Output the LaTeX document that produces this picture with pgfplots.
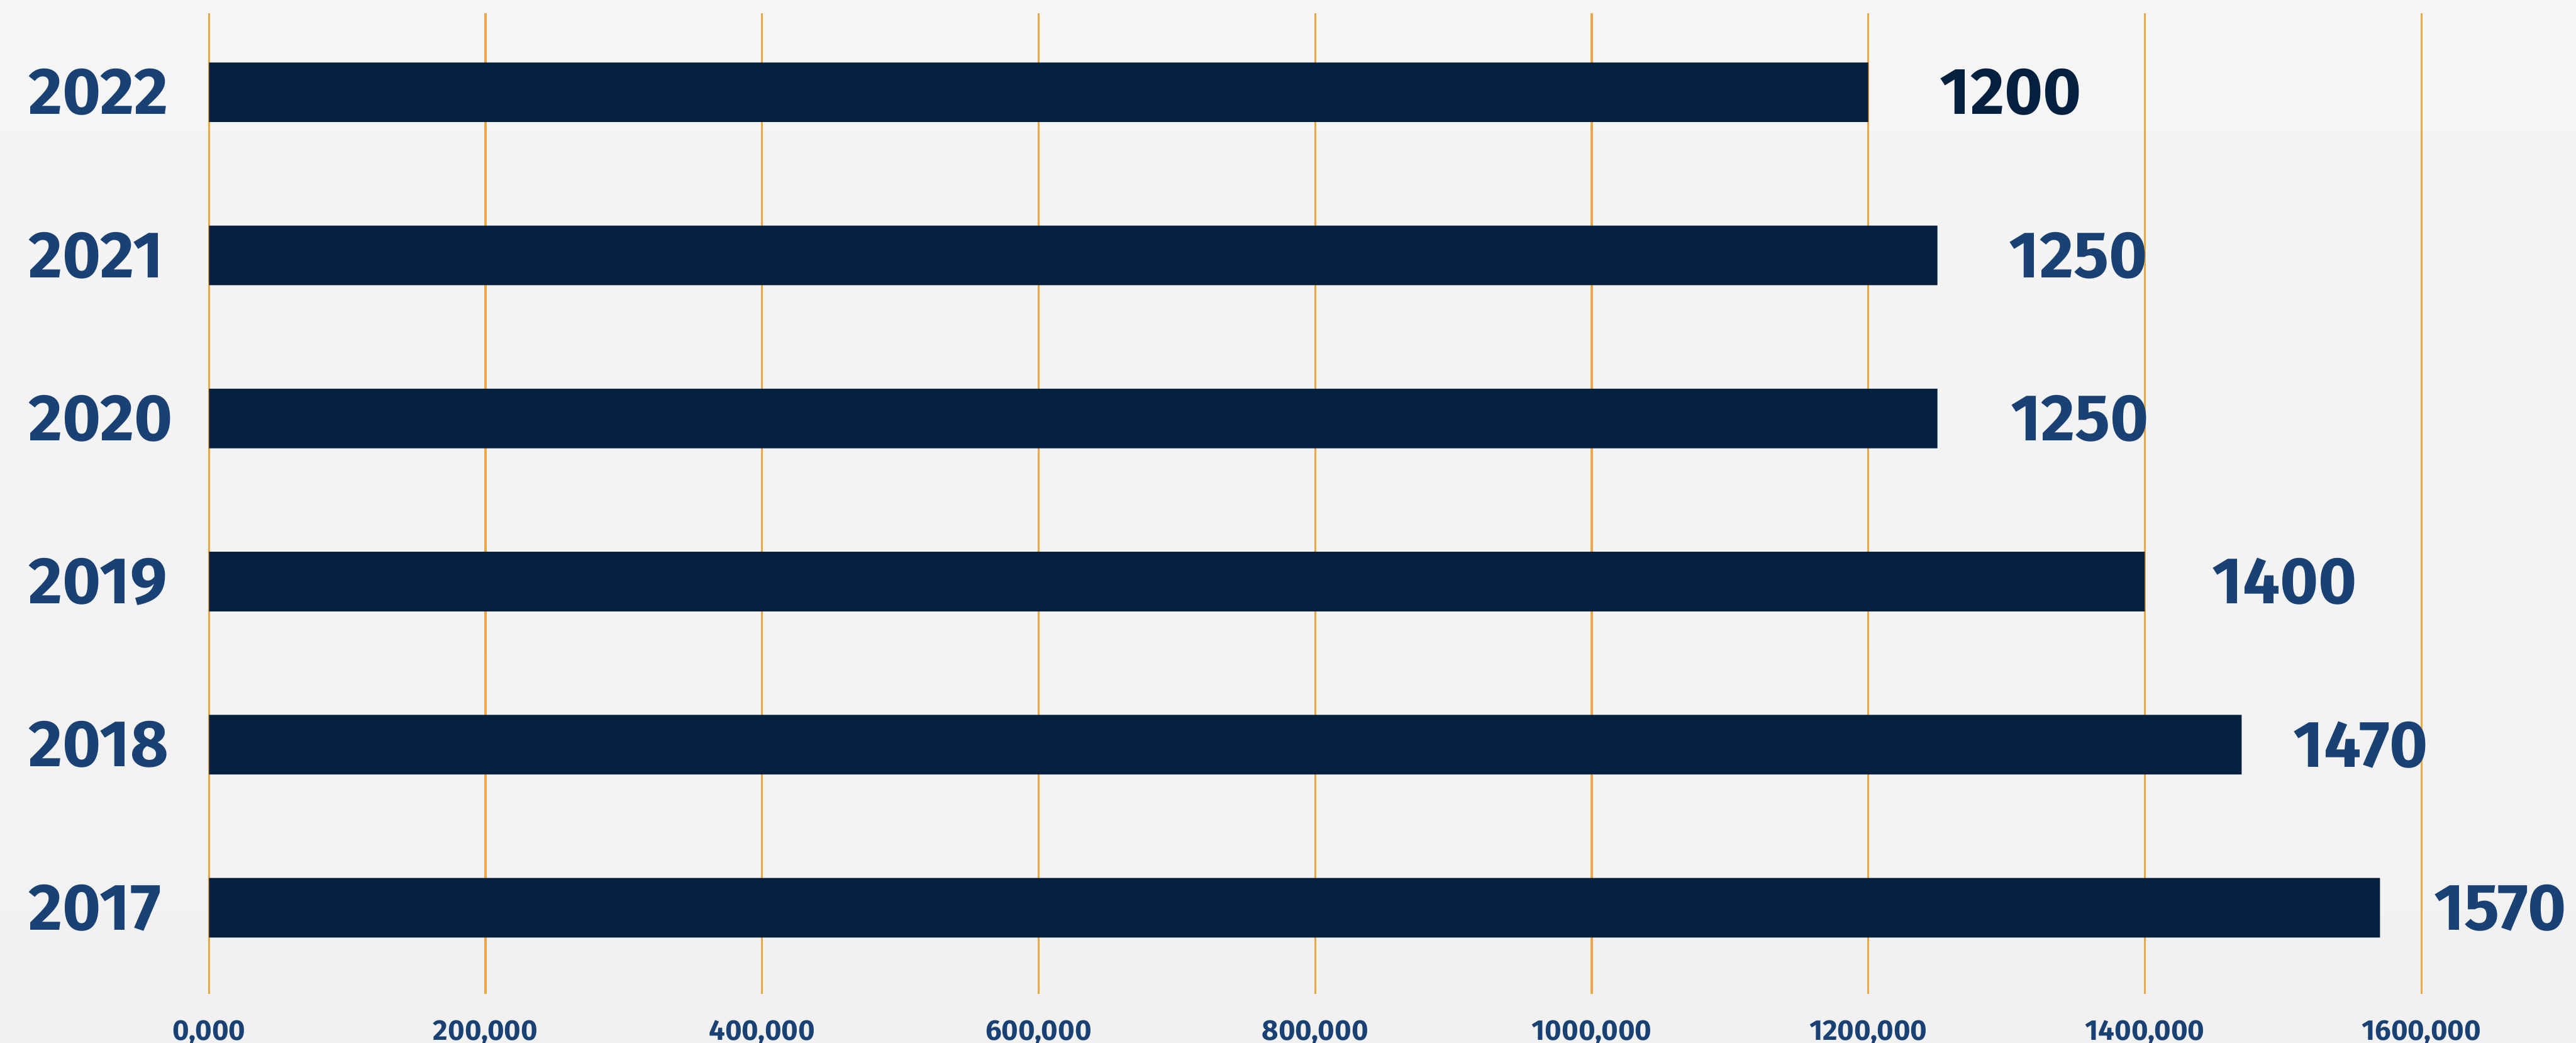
\documentclass[border=0pt]{standalone}
\usepackage{pgfplots}
\pgfplotsset{compat=1.18}
\usepackage{fontspec}
\setmainfont{Fira Sans}
\definecolor{barnavy}{HTML}{04203F}
\definecolor{lblblue}{HTML}{1A4174}
\definecolor{gridorange}{HTML}{EAA847}
\definecolor{bgtop}{HTML}{F5F5F5}
\definecolor{bgmid}{HTML}{FBFBFB}
\definecolor{bgbot}{HTML}{F1F1F1}
\begin{document}
\begin{tikzpicture}
\path[use as bounding box, top color=bgtop, middle color=bgmid, bottom color=bgbot] (0,0) rectangle (899.8pt,364.2pt);
\begin{axis}[
  at={(73pt,17.2pt)}, anchor=south west,
  scale only axis, width=772.8pt, height=342.4pt,
  xmin=0, xmax=1600, ymin=-0.527, ymax=5.485,
  xtick={0,200,...,1600},
  xticklabels={{0,000},{200,000},{400,000},{600,000},{800,000},{1000,000},{1200,000},{1400,000},{1600,000}},
  ytick={0,...,5},
  yticklabels={2017,2018,2019,2020,2021,2022},
  axis line style={draw=none},
  major tick length=0pt,
  xmajorgrids, grid style={gridorange, line width=0.7pt},
  xticklabel style={anchor=north, inner sep=0pt, yshift=-9.2pt, font=\bfseries\fontsize{10}{12}\selectfont, text=lblblue},
  yticklabel style={anchor=west, inner sep=0pt, xshift=-63.2pt, font=\bfseries\fontsize{23}{26}\selectfont, text=lblblue},
  clip=false,
]
\addplot[xbar, bar width=20.8pt, fill=barnavy, draw=none] coordinates {(1570,0) (1470,1) (1400,2) (1250,3) (1250,4) (1200,5)};
\addplot[draw=none, mark=none, nodes near coords, point meta=explicit symbolic,
  nodes near coords style={anchor=center, inner sep=0pt, font=\bfseries\fontsize{23}{26}\selectfont, text=lblblue}]
  table[meta=lab] {
x y lab
1657 0 1570
1556 1 1470
1501 2 1400
1353 3 1250
1352 4 1250
};
\addplot[draw=none, mark=none, nodes near coords, point meta=explicit symbolic,
  nodes near coords style={anchor=center, inner sep=0pt, font=\bfseries\fontsize{23}{26}\selectfont, text=barnavy}]
  table[meta=lab] {
x y lab
1303 5 1200
};
\end{axis}
\end{tikzpicture}
\end{document}
